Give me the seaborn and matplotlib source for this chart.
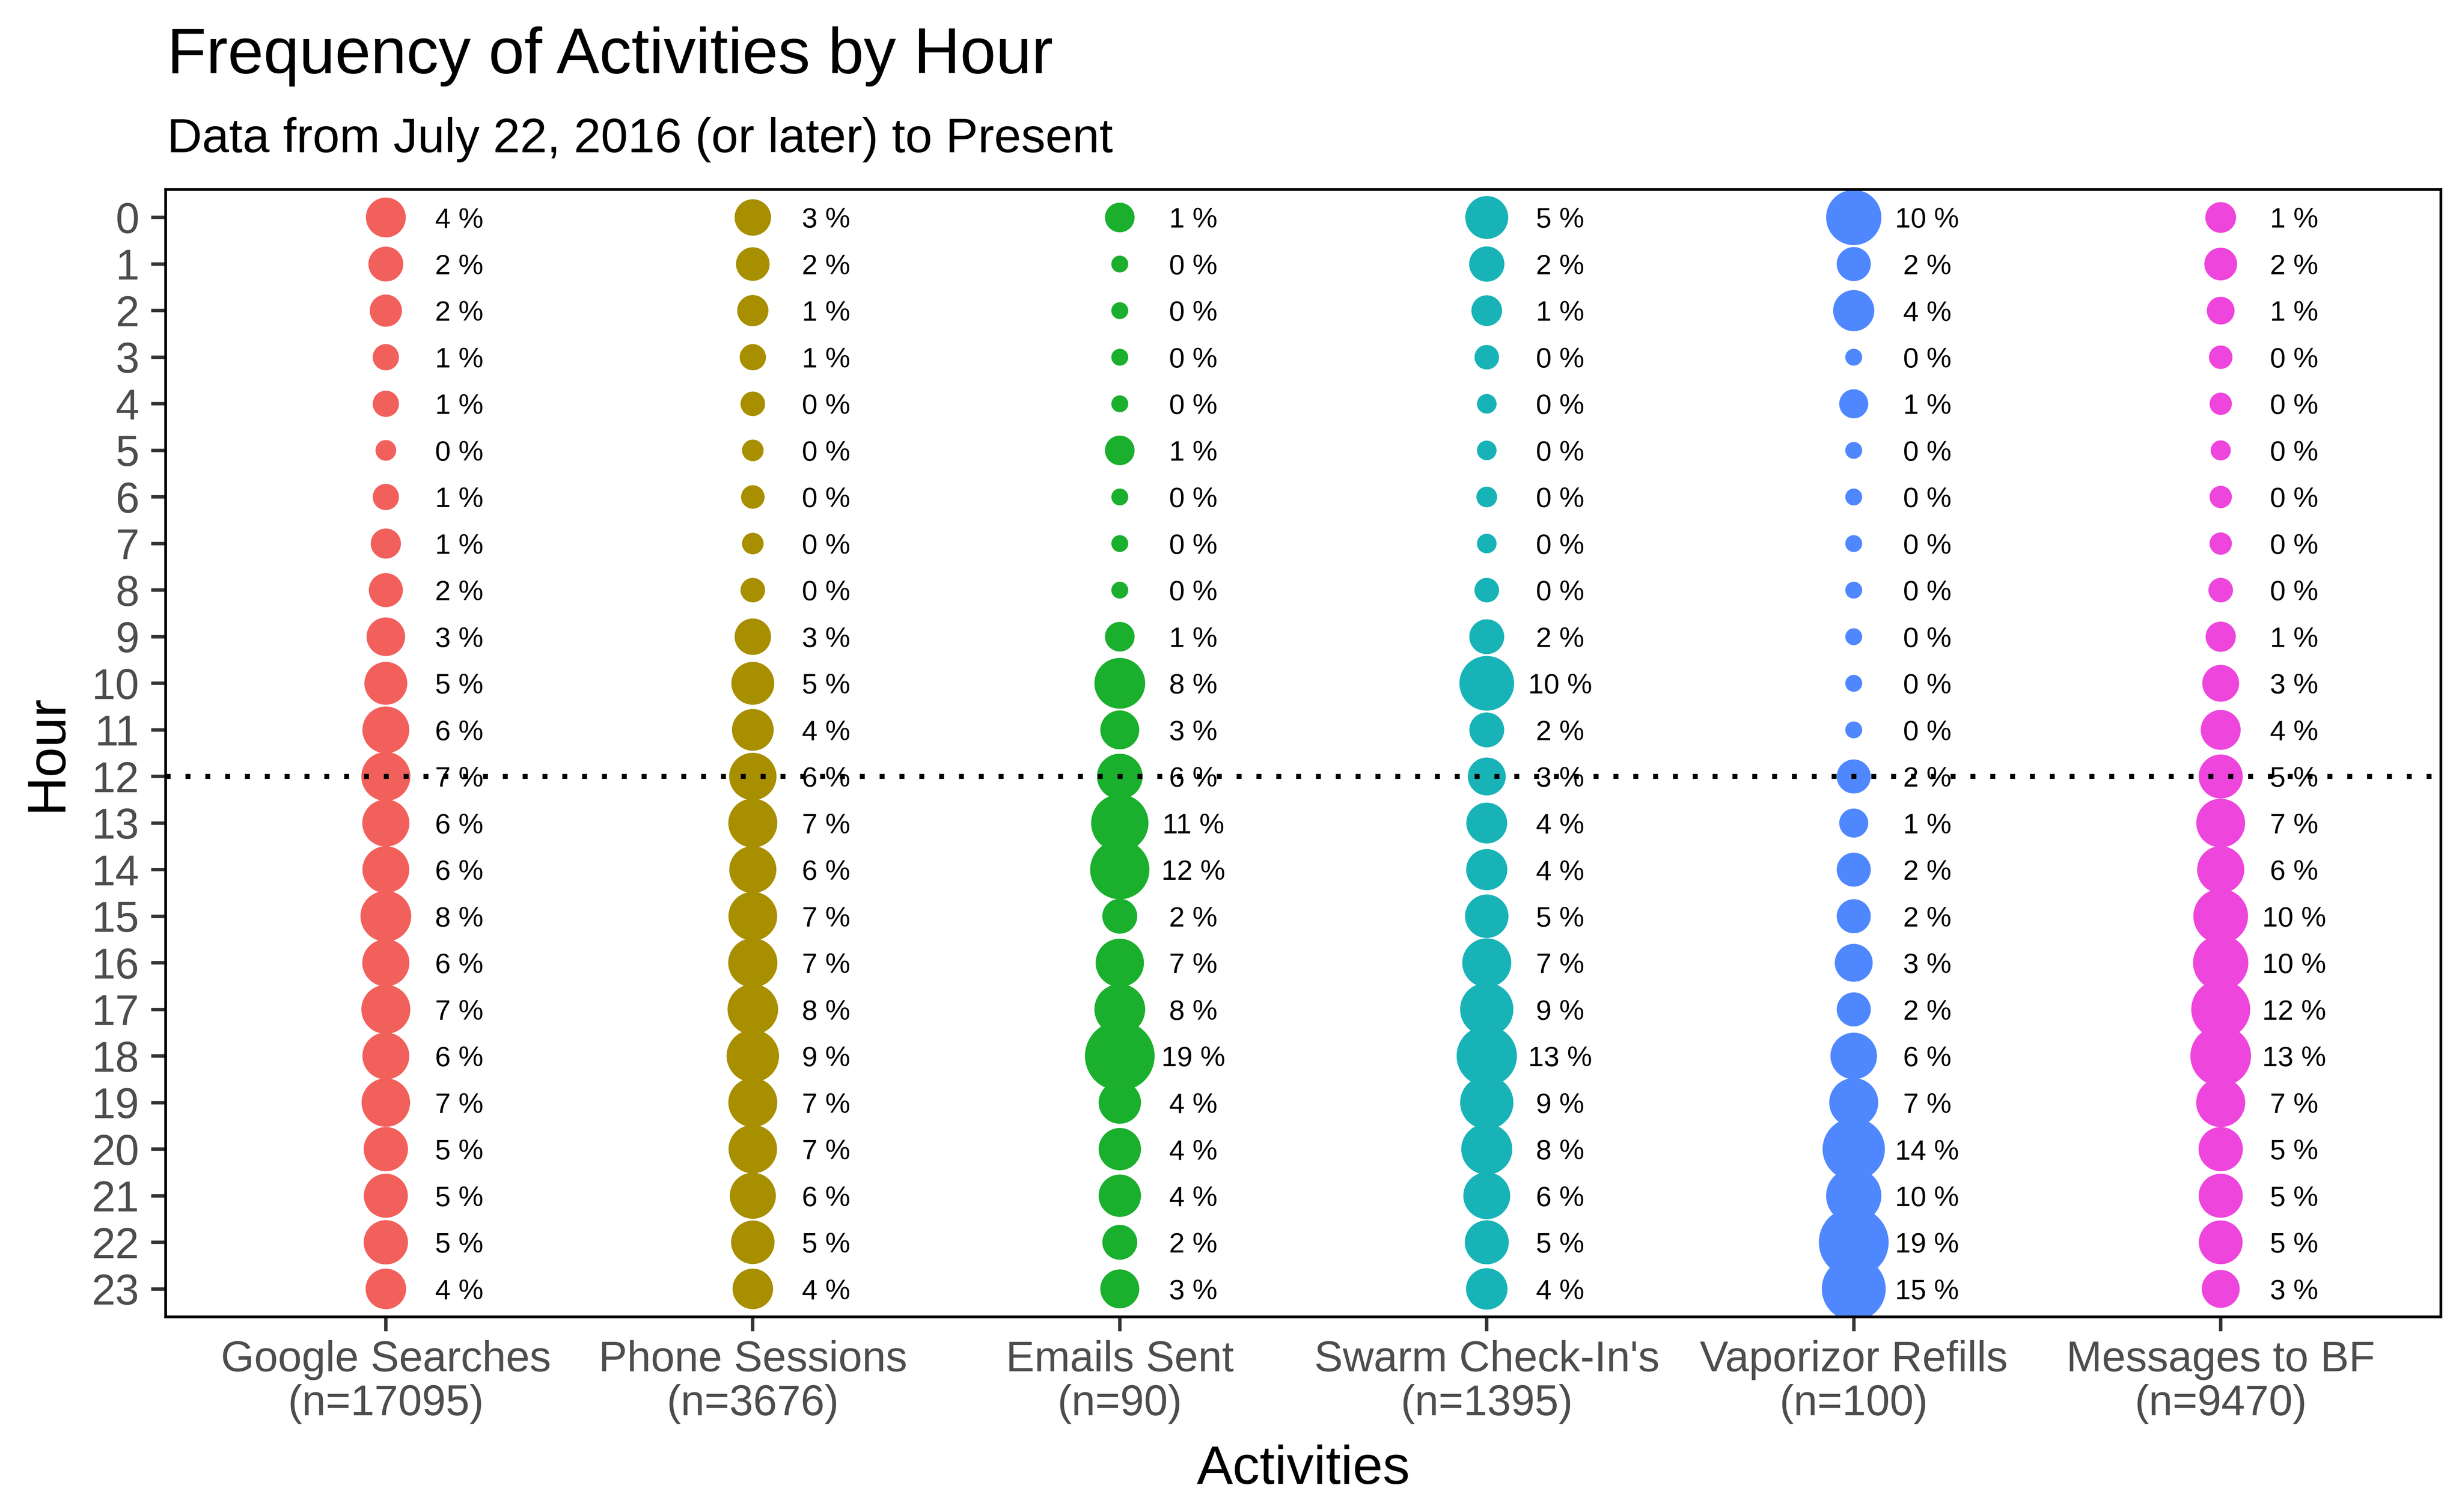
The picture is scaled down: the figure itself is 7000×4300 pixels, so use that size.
import numpy as np
import pandas as pd
import seaborn as sns
import matplotlib.pyplot as plt

# Données (pourcentage des activités par heure)
hours = list(range(24))
activities = ["Google Searches", "Phone Sessions", "Emails Sent",
              "Swarm Check-In's", "Vaporizor Refills", "Messages to BF"]
n_counts = [17095, 3676, 90, 1395, 100, 9470]

google_pct = [3.6, 2.2, 1.6, 0.6, 0.6, 0.1, 0.6, 1.2, 2.0, 3.2, 4.6, 6.1,
              7.0, 6.2, 6.1, 7.8, 6.2, 7.0, 6.1, 6.8, 5.1, 5.0, 5.1, 3.8]
phone_pct = [2.6, 1.9, 1.4, 0.6, 0.4, 0.15, 0.3, 0.15, 0.4, 2.6, 4.6, 4.2,
             6.3, 7.0, 6.2, 6.9, 7.1, 7.7, 8.6, 7.0, 6.8, 5.8, 4.8, 3.8]
emails_pct = [1.1, 0.0, 0.0, 0.0, 0.0, 1.1, 0.0, 0.0, 0.0, 1.1, 7.8, 3.3,
              5.6, 11.1, 12.2, 2.2, 6.7, 7.8, 18.9, 4.4, 4.4, 4.4, 2.2, 3.3]
swarm_pct = [4.6, 2.3, 1.3, 0.4, 0.05, 0.05, 0.1, 0.05, 0.4, 2.2, 9.7, 2.2,
             3.0, 3.9, 4.0, 4.8, 7.0, 9.0, 12.8, 9.0, 7.9, 6.1, 5.0, 4.1]
vapor_pct = [10, 2, 4, 0, 1, 0, 0, 0, 0, 0, 0, 0,
             2, 1, 2, 2, 3, 2, 6, 7, 14, 10, 19, 15]
messages_pct = [1.3, 1.7, 0.8, 0.3, 0.2, 0.07, 0.2, 0.2, 0.4, 1.2, 2.7, 3.6,
                5.0, 6.9, 6.2, 9.7, 10.0, 12.0, 13.0, 7.0, 5.1, 5.0, 4.9, 3.0]

palette = {"Google Searches": "#F2605C", "Phone Sessions": "#A88F00",
           "Emails Sent": "#1AAF2D", "Swarm Check-In's": "#18B3B7",
           "Vaporizor Refills": "#4F87FF", "Messages to BF": "#EE45DC"}

DPI = 700
W, H = 7000, 4300

# Table longue
all_pct = [google_pct, phone_pct, emails_pct, swarm_pct, vapor_pct, messages_pct]
rows = []
for i, (act, vals) in enumerate(zip(activities, all_pct)):
    for h, v in zip(hours, vals):
        rows.append({"activity": act, "xpos": i, "hour": h, "pct": v})
df = pd.DataFrame(rows)
df["label"] = [f"{int(np.floor(v + 0.5))} %" for v in df["pct"]]
# diamètre (px) ~ 48 + 34.5*sqrt(pct), converti en aire (pt^2)
df["area"] = ((48 + 34.5 * np.sqrt(df["pct"])) * 72 / DPI) ** 2

sns.set_theme(style="white")
plt.rcParams["font.family"] = ["Liberation Sans", "DejaVu Sans"]

fig = plt.figure(figsize=(W / DPI, H / DPI), dpi=DPI)
ax = fig.add_axes([471 / W, 1 - 3745 / H, (6940 - 471) / W, (3745 - 539) / H])

sns.scatterplot(data=df, x="xpos", y="hour", hue="activity", palette=palette,
                size="area", sizes=(0, 1000), size_norm=(0, 1000),
                linewidth=0, edgecolor="none", alpha=1, legend=False, ax=ax, zorder=2)

for _, r in df.iterrows():
    ax.text(r["xpos"] + 0.2, r["hour"], r["label"], ha="center", va="center_baseline",
            fontsize=8.2, color="black", zorder=3)

ax.axhline(12, color="black", linewidth=1.45, linestyle=(0, (1, 3)), zorder=4)

ax.set_xlim(-0.6, 5.6)
ax.set_ylim(23.6, -0.6)
ax.set_xticks(range(len(activities)))
ax.set_xticklabels([f"{a}\n(n={n})" for a, n in zip(activities, n_counts)],
                   linespacing=1.12)
ax.set_yticks(hours)
ax.set_yticklabels([str(h) for h in hours])
ax.tick_params(axis="both", which="both", length=4.2, width=1.0, color="#333333",
               labelsize=12.5, labelcolor="#4D4D4D", bottom=True, left=True)
ax.tick_params(axis="y", pad=3.5)
ax.tick_params(axis="x", pad=2.6)
ax.set_xlabel("")
ax.set_ylabel("")
for sp in ax.spines.values():
    sp.set_visible(True)
    sp.set_color("black")
    sp.set_linewidth(0.8)
ax.grid(False)

fig.text(475 / W, 1 - 208 / H, "Frequency of Activities by Hour",
         fontsize=18.8, ha="left", va="baseline", color="black")
fig.text(475 / W, 1 - 433 / H, "Data from July 22, 2016 (or later) to Present",
         fontsize=14.2, ha="left", va="baseline", color="black")
fig.text(134 / W, 1 - 2142 / H, "Hour", fontsize=15.8, rotation=90,
         ha="center", va="center", color="black")
fig.text((471 + 6940) / 2 / W, 1 - 4220 / H, "Activities", fontsize=15.8,
         ha="center", va="baseline", color="black")

fig.savefig("out.png", dpi=DPI, facecolor="white")
